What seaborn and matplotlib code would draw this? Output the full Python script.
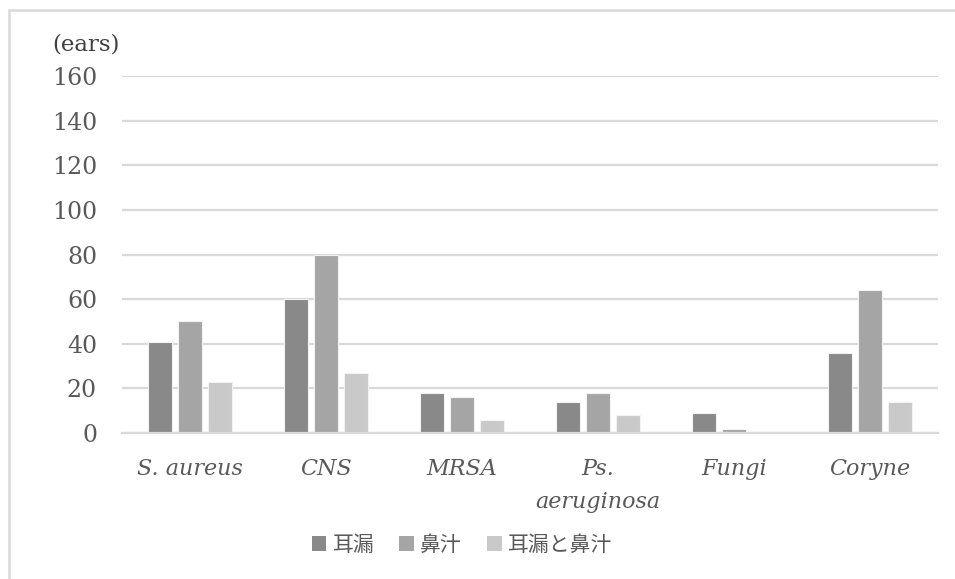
import matplotlib
matplotlib.use("Agg")
import matplotlib.pyplot as plt
from matplotlib.lines import Line2D
from matplotlib.patches import Patch
import pandas as pd
import seaborn as sns

# Organisms isolated and counts per sample type
organisms = ["S. aureus", "CNS", "MRSA", "Ps.\naeruginosa", "Fungi", "Coryne"]
series_names = ["耳漏", "鼻汁", "耳漏と鼻汁"]
ear_discharge = [41, 60, 18, 14, 9, 36]
nasal_discharge = [50, 80, 16, 18, 2, 64]
both = [23, 27, 6, 8, 0, 14]
y_ticks = [0, 20, 40, 60, 80, 100, 120, 140, 160]

colors = ["#898989", "#a5a5a5", "#c9c9c9"]
text_color = "#595959"
grid_color = "#d9d9d9"

rows = []
for name, vals in zip(series_names, [ear_discharge, nasal_discharge, both]):
    for org, v in zip(organisms, vals):
        rows.append({"organism": org, "sample": name, "count": v})
df = pd.DataFrame(rows)

sns.set_theme(style="white")
plt.rcParams["font.family"] = ["DejaVu Serif", "Noto Sans CJK JP"]

fig = plt.figure(figsize=(9.55, 5.79), dpi=100)
ax = fig.add_axes([122 / 955, 1 - 433 / 579, (938 - 122) / 955, (433 - 76) / 579])

sns.barplot(data=df, x="organism", y="count", hue="sample",
            order=organisms, hue_order=series_names, palette=colors,
            width=0.662, gap=0.2, saturation=1, edgecolor="#f2f2f2",
            linewidth=0.8, legend=False, ax=ax, zorder=3)

ax.set_ylim(0, 160)
ax.set_yticks(y_ticks)
ax.set_xlim(-0.5, len(organisms) - 0.5)
ax.yaxis.grid(True, color=grid_color, linewidth=1.6, zorder=0)
ax.set_axisbelow(True)
for side in ["left", "right", "top"]:
    ax.spines[side].set_visible(False)
ax.spines["bottom"].set_color(grid_color)
ax.spines["bottom"].set_linewidth(1.6)
ax.spines["bottom"].set_zorder(4)

ax.tick_params(axis="y", length=0, pad=18, labelsize=17, labelcolor=text_color)
ax.tick_params(axis="x", length=0, pad=18, labelsize=16, labelcolor=text_color)
for lbl in ax.get_yticklabels():
    lbl.set_family("DejaVu Serif")
for lbl in ax.get_xticklabels():
    lbl.set_fontstyle("italic")
    lbl.set_family("DejaVu Serif")
    lbl.set_linespacing(1.65)
ax.set_xlabel("")
ax.set_ylabel("")

fig.text(86 / 955, 1 - 44 / 579, "(ears)", ha="center", va="center",
         fontsize=16.5, color="#404040", family="DejaVu Serif")

handles = [Patch(facecolor=c, edgecolor="none") for c in colors]
fig.legend(handles, series_names, loc="center", ncol=3,
           bbox_to_anchor=(462 / 955, 1 - 545 / 579), frameon=False,
           handlelength=0.7, handleheight=0.7, handletextpad=0.3,
           columnspacing=1.2, labelcolor=text_color,
           prop={"family": ["Noto Sans CJK JP"], "size": 15})

# chart frame
fig.add_artist(Line2D([8.5 / 955, 8.5 / 955], [0, 1 - 9.5 / 579],
                      color=grid_color, linewidth=1.8))
fig.add_artist(Line2D([8.5 / 955, 1], [1 - 9.5 / 579, 1 - 9.5 / 579],
                      color=grid_color, linewidth=1.8))

fig.savefig("out.png", dpi=100, facecolor="white")
